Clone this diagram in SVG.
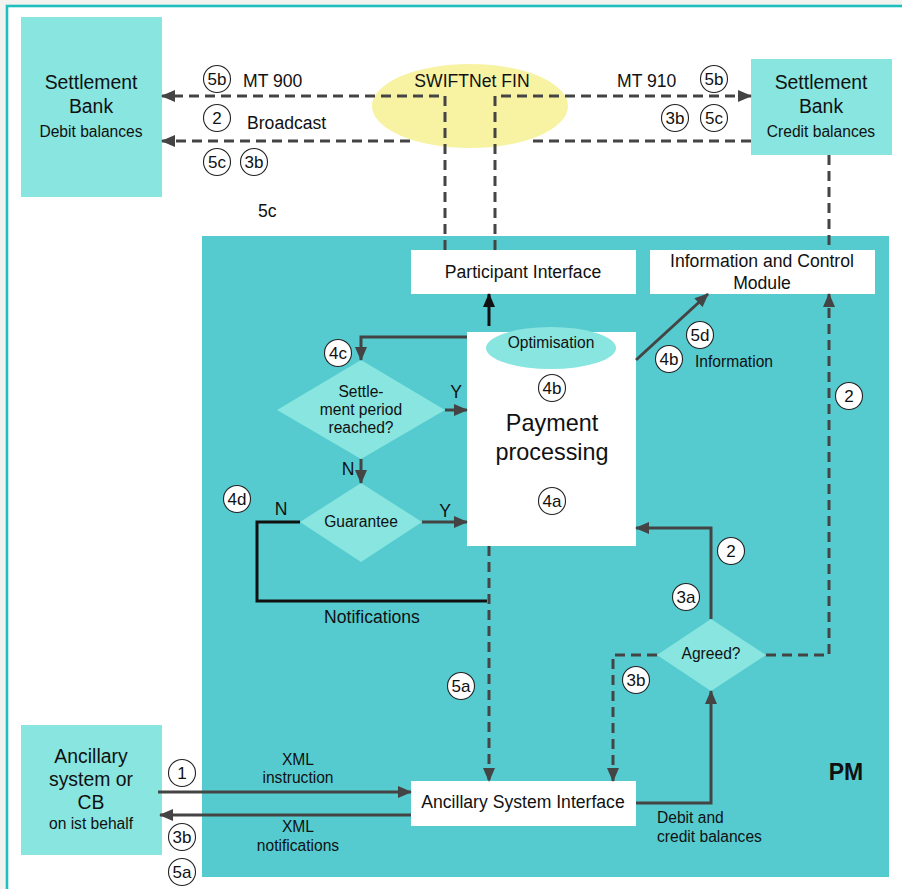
<svg xmlns="http://www.w3.org/2000/svg" width="902" height="889" viewBox="0 0 902 889">
<defs>
<style>
text{font-family:"Liberation Sans",Arial,sans-serif;fill:#111}
.t18{font-size:17.6px}
.t16{font-size:15.6px}
.t19{font-size:19.4px}
.c{text-anchor:middle}
.light{fill:#88e5df}
.white{fill:#fff}
.dash{fill:none;stroke:#444;stroke-width:3;stroke-dasharray:10 6}
.solid{fill:none;stroke:#444;stroke-width:3}
.black{fill:none;stroke:#111;stroke-width:3}
.num circle{fill:#fff;stroke:#222;stroke-width:1.1}
.num text{font-size:17px;text-anchor:middle}
</style>
<marker id="ah" markerUnits="userSpaceOnUse" markerWidth="14" markerHeight="12" refX="13" refY="6" orient="auto">
<path d="M0,0 L14,6 L0,12 z" fill="#444"/>
</marker>
<marker id="ahb" markerUnits="userSpaceOnUse" markerWidth="14" markerHeight="12" refX="13" refY="6" orient="auto">
<path d="M0,0 L14,6 L0,12 z" fill="#111"/>
</marker>
</defs>
<rect x="0" y="0" width="902" height="889" fill="#f2f2ee"/>
<rect x="7" y="6" width="930" height="920" fill="#fff" stroke="#1ebfbf" stroke-width="2.6"/>

<g id="pm">
<rect x="202" y="236" width="687" height="641" fill="#55cbd0"/>
<text x="846" y="780" class="c" style="font-size:23px;font-weight:bold">PM</text>
</g>

<g id="settlement-bank-left">
<rect x="21" y="17" width="141" height="180" class="light"/>
<text x="91" y="89" class="c t19">Settlement</text>
<text x="91" y="113" class="c t19">Bank</text>
<text x="91" y="137" class="c t16">Debit balances</text>
</g>

<g id="settlement-bank-right">
<rect x="751" y="59" width="141" height="96" class="light"/>
<text x="821" y="89" class="c t19">Settlement</text>
<text x="821" y="113" class="c t19">Bank</text>
<text x="821" y="137" class="c t16">Credit balances</text>
</g>

<g id="swiftnet">
<ellipse cx="470" cy="106" rx="98" ry="42" fill="#f7f3a3"/>
<text x="472" y="87" class="c t18">SWIFTNet FIN</text>
</g>

<g id="ancillary-system">
<rect x="21" y="725" width="141" height="130" class="light"/>
<text x="91" y="763" class="c t19">Ancillary</text>
<text x="91" y="786" class="c t19">system or</text>
<text x="91" y="809" class="c t19">CB</text>
<text x="91" y="829" class="c t16">on ist behalf</text>
</g>

<g id="participant-interface">
<rect x="411" y="250" width="225" height="44" class="white"/>
<text x="523" y="278" class="c t18">Participant Interface</text>
</g>

<g id="icm">
<rect x="650" y="250" width="225" height="44" class="white"/>
<text x="762" y="267" class="c t18">Information and Control</text>
<text x="762" y="289" class="c t18">Module</text>
</g>

<g id="payment-processing">
<rect x="467" y="332" width="169" height="214" class="white"/>
<text x="552" y="431" class="c" style="font-size:23.4px">Payment</text>
<text x="552" y="460" class="c" style="font-size:23.4px">processing</text>
</g>

<g id="optimisation">
<ellipse cx="551" cy="348" rx="65" ry="21" class="light"/>
<text x="551" y="348" class="c t16">Optimisation</text>
</g>

<g id="settlement-period">
<polygon points="361,360 445,410 361,459 277,410" class="light"/>
<text x="361" y="397" class="c t16">Settle-</text>
<text x="361" y="415" class="c t16">ment period</text>
<text x="361" y="433" class="c t16">reached?</text>
</g>

<g id="guarantee">
<polygon points="361,483 422,522 361,562 300,522" class="light"/>
<text x="361" y="527" class="c t16">Guarantee</text>
</g>

<g id="agreed">
<polygon points="711,619 766,655 711,691 657,655" class="light"/>
<text x="711" y="659" class="c t16">Agreed?</text>
</g>

<g id="asi">
<rect x="411" y="781" width="225" height="45" class="white"/>
<text x="523" y="808" class="c t18">Ancillary System Interface</text>
</g>

<g id="connectors">
<path d="M445,250 L445,96 L162,96" class="dash" marker-end="url(#ah)"/>
<path d="M495,250 L495,96 L751,96" class="dash" marker-end="url(#ah)"/>
<path d="M410,141 L162,141" class="dash" marker-end="url(#ah)"/>
<path d="M751,141 L527,141" class="dash"/>
<path d="M829,155 L829,250" class="dash"/>
<path d="M766,655 L829,655 L829,294" class="dash" marker-end="url(#ah)"/>
<path d="M657,655 L613,655 L613,781" class="dash" marker-end="url(#ah)"/>
<path d="M489,546 L489,781" class="dash" marker-end="url(#ah)"/>
<path d="M489,326 L489,294" class="black" marker-end="url(#ahb)"/>
<path d="M467,337 L361,337 L361,360" class="solid" marker-end="url(#ah)"/>
<path d="M445,410 L467,410" class="solid" marker-end="url(#ah)"/>
<path d="M361,459 L361,483" class="solid" marker-end="url(#ah)"/>
<path d="M422,522 L467,522" class="solid" marker-end="url(#ah)"/>
<path d="M300,522 L257,522 L257,601 L487,601" class="black"/>
<path d="M636,360 L708,294" class="solid" marker-end="url(#ah)"/>
<path d="M711,619 L711,528 L636,528" class="solid" marker-end="url(#ah)"/>
<path d="M636,803 L711,803 L711,691" class="solid" marker-end="url(#ah)"/>
<path d="M158,792 L411,792" class="solid" marker-end="url(#ah)"/>
<path d="M411,815 L160,815" class="solid" marker-end="url(#ah)"/>
</g>

<g id="labels">
<text x="243" y="87" class="t18">MT 900</text>
<text x="247" y="129" class="t18">Broadcast</text>
<text x="258" y="217" class="t18">5c</text>
<text x="617" y="87" class="t18">MT 910</text>
<text x="456" y="398" class="c t18">Y</text>
<text x="348" y="475" class="c t18">N</text>
<text x="281" y="515" class="c t18">N</text>
<text x="445" y="517" class="c t18">Y</text>
<text x="372" y="623" class="c t18">Notifications</text>
<text x="695" y="367" class="t16">Information</text>
<text x="657" y="823" class="t16">Debit and</text>
<text x="657" y="842" class="t16">credit balances</text>
<text x="298" y="765" class="c t16">XML</text>
<text x="298" y="783" class="c t16">instruction</text>
<text x="298" y="832" class="c t16">XML</text>
<text x="298" y="851" class="c t16">notifications</text>
</g>

<g id="step-numbers" class="num">
<circle cx="217" cy="79" r="13.5"/><text x="217" y="85">5b</text>
<circle cx="217" cy="118" r="13.5"/><text x="217" y="124">2</text>
<circle cx="217" cy="162" r="13.5"/><text x="217" y="168">5c</text>
<circle cx="254" cy="162" r="13.5"/><text x="254" y="168">3b</text>
<circle cx="714" cy="79" r="13.5"/><text x="714" y="85">5b</text>
<circle cx="675" cy="118" r="13.5"/><text x="675" y="124">3b</text>
<circle cx="714" cy="118" r="13.5"/><text x="714" y="124">5c</text>
<circle cx="338" cy="353" r="13.5"/><text x="338" y="359">4c</text>
<circle cx="552" cy="388" r="13.5"/><text x="552" y="394">4b</text>
<circle cx="700" cy="335" r="13.5"/><text x="700" y="341">5d</text>
<circle cx="669" cy="359" r="13.5"/><text x="669" y="365">4b</text>
<circle cx="849" cy="396" r="13.5"/><text x="849" y="402">2</text>
<circle cx="237" cy="499" r="13.5"/><text x="237" y="505">4d</text>
<circle cx="552" cy="501" r="13.5"/><text x="552" y="507">4a</text>
<circle cx="731" cy="551" r="13.5"/><text x="731" y="557">2</text>
<circle cx="686" cy="597" r="13.5"/><text x="686" y="603">3a</text>
<circle cx="636" cy="680" r="13.5"/><text x="636" y="686">3b</text>
<circle cx="461" cy="686" r="13.5"/><text x="461" y="692">5a</text>
<circle cx="182" cy="773" r="13.5"/><text x="182" y="779">1</text>
<circle cx="182" cy="837" r="13.5"/><text x="182" y="843">3b</text>
<circle cx="182" cy="872" r="13.5"/><text x="182" y="878">5a</text>
</g>
</svg>
